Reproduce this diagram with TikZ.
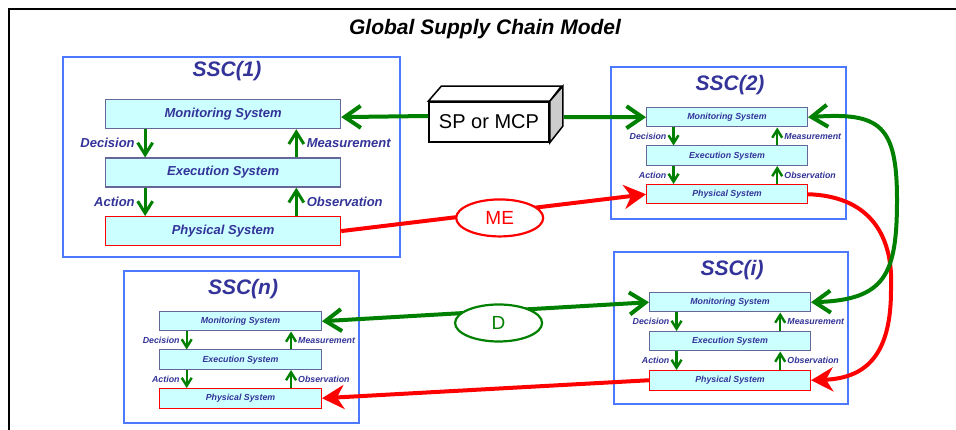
\documentclass[tikz,border=0pt]{standalone}
\usepackage{fontspec}
\setmainfont{Liberation Sans}
\usetikzlibrary{arrows.meta,calc,shapes.geometric}
\definecolor{sscblue}{RGB}{77,121,255}
\definecolor{ssctext}{RGB}{51,51,153}
\definecolor{sysfill}{RGB}{204,255,255}
\definecolor{sysline}{RGB}{102,102,153}
\definecolor{physred}{RGB}{255,0,0}
\definecolor{flowgreen}{RGB}{0,128,0}
\tikzset{
  bigbox/.style={draw=sysline,fill=sysfill,line width=1.2pt,minimum height=29pt,inner sep=0pt,
    text=ssctext,font=\fontsize{13}{15}\selectfont\bfseries\itshape},
  smallbox/.style={draw=sysline,fill=sysfill,line width=1pt,minimum height=19.5pt,inner sep=0pt,
    text=ssctext,font=\fontsize{8.8}{10}\selectfont\bfseries\itshape},
  bigflow/.style={draw=flowgreen,line width=3pt,-{Straight Barb[length=12pt,width=15pt]}},
  smallflow/.style={draw=flowgreen,line width=2.4pt,-{Straight Barb[length=8pt,width=10pt]}},
  biglab/.style={text=ssctext,inner xsep=9pt,inner ysep=0pt,font=\fontsize{13}{15}\selectfont\bfseries\itshape},
  smalllab/.style={text=ssctext,inner xsep=6pt,inner ysep=0pt,font=\fontsize{8.8}{10}\selectfont\bfseries\itshape},
  ssctitle/.style={text=ssctext,font=\fontsize{21}{24}\selectfont\bfseries\itshape},
  sscframe/.style={draw=sscblue,line width=2pt},
  glink/.style={draw=flowgreen,line width=4pt},
  rlink/.style={draw=physred,line width=4pt},
  tag/.style={ellipse,fill=white,line width=2.2pt,minimum width=87pt,minimum height=37pt,inner sep=0pt,
    font=\fontsize{19}{21}\selectfont}
}
% one chain of monitoring, execution and physical system
% #1 name, #2 left, #3 top, #4 width, #5 row step, #6 big or small
\newcommand{\chain}[6]{%
  \node[#6box,minimum width=#4pt,anchor=north west] (#1mon) at (#2,#3) {Monitoring System};
  \node[#6box,minimum width=#4pt,anchor=north west] (#1exe) at (#2,#3+#5) {Execution System};
  \node[#6box,minimum width=#4pt,anchor=north west,draw=physred] (#1phy) at (#2,#3+2*#5) {Physical System};
  \draw[#6flow] ($(#1mon.south west)!0.17!(#1mon.south east)$) -- node[#6lab,left] (#1dec) {Decision} ($(#1exe.north west)!0.17!(#1exe.north east)$);
  \draw[#6flow] ($(#1exe.south west)!0.17!(#1exe.south east)$) -- node[#6lab,left] (#1act) {Action} ($(#1phy.north west)!0.17!(#1phy.north east)$);
  \draw[#6flow] ($(#1exe.north west)!0.81!(#1exe.north east)$) -- node[#6lab,right] (#1mea) {Measurement} ($(#1mon.south west)!0.81!(#1mon.south east)$);
  \draw[#6flow] ($(#1phy.north west)!0.81!(#1phy.north east)$) -- node[#6lab,right] (#1obs) {Observation} ($(#1exe.south west)!0.81!(#1exe.south east)$);
}
\begin{document}
\begin{tikzpicture}[x=1pt,y=-1pt]
\useasboundingbox (0,0) rectangle (956,430);
\clip (0,0) rectangle (956,430);
\draw[line width=2.5pt] (9,440) -- (9,9) -- (970,9);
\node[font=\fontsize{21}{24}\selectfont\bfseries\itshape] (title) at (485,29) {Global Supply Chain Model};
%
\draw[sscframe] (63,57) rectangle (400,257);
\node[ssctitle] (t1) at (227,71) {SSC(1)};
\chain{s1}{105}{99}{235}{58.5}{big}
%
\draw[sscframe] (611,67) rectangle (846,219);
\node[ssctitle] (t2) at (730,85) {SSC(2)};
\chain{s2}{646}{107}{161}{38.5}{small}
%
\draw[sscframe] (614,252) rectangle (848,404);
\node[ssctitle] (ti) at (732,270) {SSC(i)};
\chain{si}{649}{292}{161}{39}{small}
%
\draw[sscframe] (124,271) rectangle (359,423);
\node[ssctitle] (tn) at (243,289) {SSC(n)};
\chain{sn}{159}{311}{162}{38.5}{small}
%
\node[draw,line width=1.5pt,fill=white,minimum width=120pt,minimum height=40pt,inner sep=0pt,
  font=\fontsize{20}{24}\selectfont] (sp) at (489,122) {SP or MCP};
\draw[line width=1.5pt,fill=white] (sp.north west) -- ++(13,-15) -- ++(120,0) -- (sp.north east) -- cycle;
\draw[line width=1.5pt,fill=black!20] (sp.north east) -- ++(13,-15) -- ++(0,40) -- (sp.south east) -- cycle;
%
\draw[glink,-{Straight Barb[length=16pt,width=22pt]}] ([yshift=6pt]sp.west) -- ([yshift=-3pt]s1mon.east);
\draw[glink,-{Straight Barb[length=16pt,width=22pt]}] ([xshift=14pt,yshift=5pt]sp.east) -- (s2mon.west);
\draw[rlink,-{Stealth[length=22pt,width=24pt,inset=7pt]}] (s1phy.east) -- node[tag,draw=physred,text=physred,pos=0.52,yshift=-6pt] (me) {ME} (s2phy.west);
\draw[glink,{Straight Barb[length=16pt,width=22pt]}-{Straight Barb[length=16pt,width=22pt]}] (simon.west) -- node[tag,draw=flowgreen,text=flowgreen,pos=0.46,yshift=-12pt] (d) {D} (snmon.east);
\draw[rlink,-{Stealth[length=22pt,width=24pt,inset=7pt]}] (siphy.west) -- (snphy.east);
%
\draw[rlink,-{Stealth[length=22pt,width=24pt,inset=7pt]}] (s2phy.east) .. controls (865,196) and (894,230) .. (891,290) .. controls (891,350) and (870,378) .. (siphy.east);
\draw[glink,{Straight Barb[length=16pt,width=22pt]}-{Straight Barb[length=16pt,width=22pt]}] (s2mon.east) .. controls (880,112) and (897,125) .. (897,200) .. controls (897,275) and (885,300) .. (simon.east);
\end{tikzpicture}
\end{document}
